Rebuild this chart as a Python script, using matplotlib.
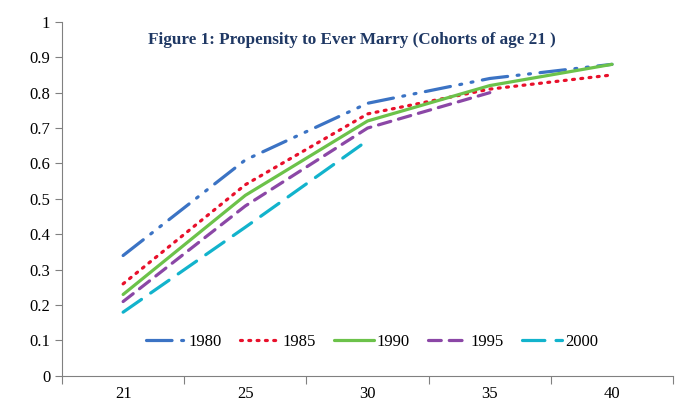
import numpy as np
import matplotlib.pyplot as plt

plt.rcParams['font.family'] = ['Liberation Serif', 'DejaVu Serif']

ages = ['21', '25', '30', '35', '40']
cohort_1980 = [0.34, 0.61, 0.77, 0.84, 0.88]
cohort_1985 = [0.26, 0.54, 0.74, 0.81, 0.85]
cohort_1990 = [0.23, 0.51, 0.72, 0.82, 0.88]
cohort_1995 = [0.21, 0.48, 0.70, 0.80]
cohort_2000 = [0.18, 0.42, 0.665]

series = [
    ('1980', cohort_1980, '#3B73C4', (0, (8, 3, 0.6, 3, 0.6, 3))),
    ('1985', cohort_1985, '#E8102B', (0, (0.6, 2.0))),
    ('1990', cohort_1990, '#6CC24A', '-'),
    ('1995', cohort_1995, '#8B47A6', (0, (4, 2.5))),
    ('2000', cohort_2000, '#12B3CC', (0, (7, 3.5))),
]

fig = plt.figure(figsize=(6.89, 4.2), dpi=100)
ax = fig.add_axes([0.09, 0.105, 0.887, 0.843])

x = np.arange(len(ages))
for label, vals, color, ls in series:
    ax.plot(x[:len(vals)], vals, color=color, linestyle=ls, linewidth=2.3,
            label=label, solid_capstyle='round', dash_capstyle='round')

ax.set_xlim(-0.5, len(ages) - 0.5)
ax.set_ylim(0, 1)
ax.set_yticks(np.arange(0, 1.01, 0.1))
ax.set_yticklabels(['0', '0.1', '0.2', '0.3', '0.4', '0.5', '0.6', '0.7', '0.8', '0.9', '1'])
ax.set_xticks(np.arange(-0.5, len(ages), 1.0))
ax.set_xticklabels([])
ax.set_xticks(x, minor=True)
ax.set_xticklabels(ages, minor=True)
ax.tick_params(axis='x', which='major', length=6, color='#808080')
ax.tick_params(axis='x', which='minor', length=0, labelsize=12, pad=7)
ax.tick_params(axis='y', length=5, color='#808080', labelsize=12)

for s in ['top', 'right']:
    ax.spines[s].set_visible(False)
for s in ['left', 'bottom']:
    ax.spines[s].set_color('#808080')

ax.text(0.475, 0.95, 'Figure 1: Propensity to Ever Marry (Cohorts of age 21 )',
        transform=ax.transAxes, ha='center', va='center', fontsize=12.3,
        fontweight='bold', color='#1F3864')

ax.legend(loc='center', bbox_to_anchor=(0.507, 0.096), ncol=5, frameon=False,
          fontsize=12, handlelength=2.4, handletextpad=0.15, columnspacing=1.1)

fig.savefig('out.png', dpi=100)
